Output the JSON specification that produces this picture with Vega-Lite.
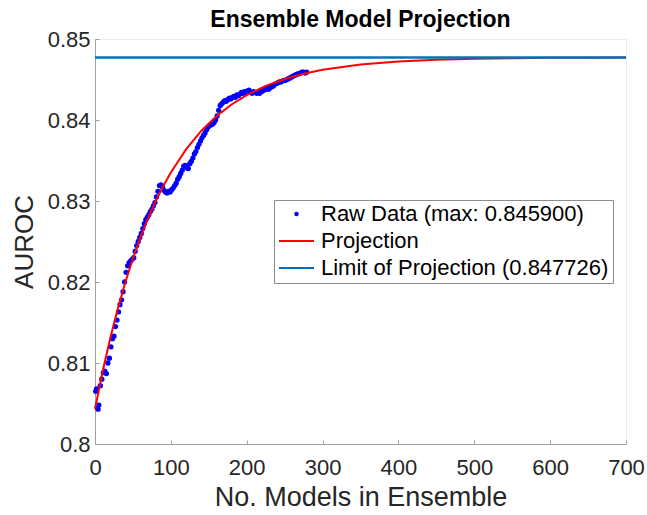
{
  "$schema": "https://vega.github.io/schema/vega-lite/v6.json",
  "width": 531,
  "height": 405,
  "autosize": {"type": "none"},
  "padding": {"left": 95, "top": 39, "right": 21, "bottom": 71},
  "background": "white",
  "title": {"text": "Ensemble Model Projection", "font": "Liberation Sans", "fontSize": 23, "fontWeight": "bold", "color": "black", "anchor": "middle", "frame": "group", "baseline": "alphabetic", "offset": -22},
  "config": {
    "view": {"stroke": "#ececec", "strokeWidth": 1},
    "axis": {"domainColor": "#a0a0a0", "tickColor": "#a0a0a0", "labelColor": "#262626", "titleColor": "#262626", "labelFont": "Liberation Sans", "titleFont": "Liberation Sans", "labelFontSize": 22, "titleFontSize": 26, "titleFontWeight": "normal", "grid": false, "tickSize": -4, "domainWidth": 1, "tickWidth": 1, "labelFlush": false, "labelOverlap": false}
  },
  "datasets": {
    "raw": [
      {"models": 1, "auroc": 0.8065}, {"models": 2, "auroc": 0.8068}, {"models": 3, "auroc": 0.8045}, {"models": 4, "auroc": 0.8043}, {"models": 5, "auroc": 0.8048},
      {"models": 7, "auroc": 0.8072}, {"models": 9, "auroc": 0.8080}, {"models": 11, "auroc": 0.8088}, {"models": 13, "auroc": 0.8090}, {"models": 15, "auroc": 0.8087},
      {"models": 17, "auroc": 0.8100}, {"models": 19, "auroc": 0.8106}, {"models": 21, "auroc": 0.8120}, {"models": 23, "auroc": 0.8130}, {"models": 25, "auroc": 0.8133},
      {"models": 27, "auroc": 0.8145}, {"models": 29, "auroc": 0.8153}, {"models": 31, "auroc": 0.8163}, {"models": 33, "auroc": 0.8172}, {"models": 35, "auroc": 0.8178},
      {"models": 37, "auroc": 0.8188}, {"models": 39, "auroc": 0.8200}, {"models": 41, "auroc": 0.8212}, {"models": 43, "auroc": 0.8220}, {"models": 45, "auroc": 0.8224},
      {"models": 47, "auroc": 0.8226}, {"models": 49, "auroc": 0.8228}, {"models": 51, "auroc": 0.8230}, {"models": 53, "auroc": 0.8238}, {"models": 55, "auroc": 0.8245},
      {"models": 57, "auroc": 0.8250}, {"models": 59, "auroc": 0.8255}, {"models": 61, "auroc": 0.8260}, {"models": 63, "auroc": 0.8266}, {"models": 65, "auroc": 0.8272},
      {"models": 67, "auroc": 0.8277}, {"models": 69, "auroc": 0.8280}, {"models": 71, "auroc": 0.8283}, {"models": 73, "auroc": 0.8287}, {"models": 75, "auroc": 0.8290},
      {"models": 77, "auroc": 0.8294}, {"models": 79, "auroc": 0.8298}, {"models": 81, "auroc": 0.8305}, {"models": 83, "auroc": 0.8312}, {"models": 85, "auroc": 0.8319},
      {"models": 87, "auroc": 0.8320}, {"models": 89, "auroc": 0.8317}, {"models": 91, "auroc": 0.8313}, {"models": 93, "auroc": 0.8311}, {"models": 95, "auroc": 0.8310},
      {"models": 97, "auroc": 0.8312}, {"models": 99, "auroc": 0.8311}, {"models": 101, "auroc": 0.8314}, {"models": 103, "auroc": 0.8316}, {"models": 105, "auroc": 0.8319},
      {"models": 107, "auroc": 0.8322}, {"models": 109, "auroc": 0.8327}, {"models": 111, "auroc": 0.8330}, {"models": 113, "auroc": 0.8334}, {"models": 115, "auroc": 0.8338},
      {"models": 117, "auroc": 0.8343}, {"models": 119, "auroc": 0.8344}, {"models": 121, "auroc": 0.8341}, {"models": 123, "auroc": 0.8340}, {"models": 125, "auroc": 0.8346},
      {"models": 127, "auroc": 0.8349}, {"models": 129, "auroc": 0.8353}, {"models": 131, "auroc": 0.8358}, {"models": 133, "auroc": 0.8361}, {"models": 135, "auroc": 0.8366},
      {"models": 137, "auroc": 0.8370}, {"models": 139, "auroc": 0.8374}, {"models": 141, "auroc": 0.8378}, {"models": 143, "auroc": 0.8381}, {"models": 145, "auroc": 0.8384},
      {"models": 147, "auroc": 0.8388}, {"models": 149, "auroc": 0.8391}, {"models": 151, "auroc": 0.8393}, {"models": 153, "auroc": 0.8394}, {"models": 155, "auroc": 0.8395},
      {"models": 157, "auroc": 0.8397}, {"models": 159, "auroc": 0.8400}, {"models": 161, "auroc": 0.8405}, {"models": 163, "auroc": 0.8412}, {"models": 165, "auroc": 0.8418},
      {"models": 167, "auroc": 0.8420}, {"models": 169, "auroc": 0.8422}, {"models": 171, "auroc": 0.8424}, {"models": 173, "auroc": 0.8423}, {"models": 175, "auroc": 0.8425},
      {"models": 177, "auroc": 0.8427}, {"models": 179, "auroc": 0.8426}, {"models": 181, "auroc": 0.8428}, {"models": 183, "auroc": 0.8429}, {"models": 185, "auroc": 0.8428},
      {"models": 187, "auroc": 0.8431}, {"models": 189, "auroc": 0.8430}, {"models": 191, "auroc": 0.8432}, {"models": 193, "auroc": 0.8434}, {"models": 195, "auroc": 0.8433},
      {"models": 197, "auroc": 0.8435}, {"models": 199, "auroc": 0.8434}, {"models": 201, "auroc": 0.8436}, {"models": 203, "auroc": 0.8437}, {"models": 205, "auroc": 0.8434},
      {"models": 207, "auroc": 0.8433}, {"models": 209, "auroc": 0.8435}, {"models": 211, "auroc": 0.8434}, {"models": 213, "auroc": 0.8433}, {"models": 215, "auroc": 0.8434},
      {"models": 217, "auroc": 0.8433}, {"models": 219, "auroc": 0.8435}, {"models": 221, "auroc": 0.8436}, {"models": 223, "auroc": 0.8437}, {"models": 225, "auroc": 0.8438},
      {"models": 227, "auroc": 0.8439}, {"models": 229, "auroc": 0.8438}, {"models": 231, "auroc": 0.8440}, {"models": 233, "auroc": 0.8441}, {"models": 235, "auroc": 0.8442},
      {"models": 237, "auroc": 0.8444}, {"models": 239, "auroc": 0.8445}, {"models": 241, "auroc": 0.8446}, {"models": 243, "auroc": 0.8447}, {"models": 245, "auroc": 0.8447},
      {"models": 247, "auroc": 0.8448}, {"models": 249, "auroc": 0.8449}, {"models": 251, "auroc": 0.8449}, {"models": 253, "auroc": 0.8450}, {"models": 255, "auroc": 0.8451},
      {"models": 257, "auroc": 0.8452}, {"models": 259, "auroc": 0.8453}, {"models": 261, "auroc": 0.8454}, {"models": 263, "auroc": 0.8455}, {"models": 265, "auroc": 0.8456},
      {"models": 267, "auroc": 0.8457}, {"models": 269, "auroc": 0.8457}, {"models": 271, "auroc": 0.8458}, {"models": 273, "auroc": 0.8459}, {"models": 275, "auroc": 0.8459},
      {"models": 277, "auroc": 0.8458}, {"models": 279, "auroc": 0.8459}
    ],
    "projection": [
      {"models": 0, "auroc": 0.804326}, {"models": 10, "auroc": 0.808914}, {"models": 20, "auroc": 0.813017}, {"models": 30, "auroc": 0.816687},
      {"models": 40, "auroc": 0.819969}, {"models": 50, "auroc": 0.822903}, {"models": 60, "auroc": 0.825528}, {"models": 70, "auroc": 0.827874},
      {"models": 80, "auroc": 0.829973}, {"models": 90, "auroc": 0.831850}, {"models": 100, "auroc": 0.833528}, {"models": 120, "auroc": 0.836371},
      {"models": 140, "auroc": 0.838645}, {"models": 160, "auroc": 0.840464}, {"models": 180, "auroc": 0.841918}, {"models": 200, "auroc": 0.843081},
      {"models": 225, "auroc": 0.844212}, {"models": 250, "auroc": 0.845069}, {"models": 275, "auroc": 0.845717}, {"models": 300, "auroc": 0.846206},
      {"models": 350, "auroc": 0.846857}, {"models": 400, "auroc": 0.847229}, {"models": 450, "auroc": 0.847442}, {"models": 500, "auroc": 0.847563},
      {"models": 550, "auroc": 0.847633}, {"models": 600, "auroc": 0.847673}, {"models": 650, "auroc": 0.847696}, {"models": 700, "auroc": 0.847709}
    ],
    "limit": [{"auroc": 0.847726}]
  },
  "layer": [
    {
      "data": {"name": "raw"},
      "mark": {"type": "point", "filled": true, "size": 28, "opacity": 1},
      "encoding": {
        "x": {"field": "models", "type": "quantitative", "scale": {"domain": [0, 700], "nice": false}, "axis": {"title": "No. Models in Ensemble", "titleFontSize": 27, "values": [0, 100, 200, 300, 400, 500, 600, 700], "labelPadding": 17, "titlePadding": 6}},
        "y": {"field": "auroc", "type": "quantitative", "scale": {"domain": [0.8, 0.85], "nice": false, "zero": false}, "axis": {"title": "AUROC", "values": [0.8, 0.81, 0.82, 0.83, 0.84, 0.85], "format": "~g", "labelPadding": 9, "titlePadding": 10}},
        "color": {
          "datum": "Raw Data (max: 0.845900)",
          "scale": {"domain": ["Raw Data (max: 0.845900)", "Projection", "Limit of Projection (0.847726)"], "range": ["#0000FF", "#FF0000", "#0072BD"]},
          "legend": {
            "title": null, "orient": "none", "legendX": 179, "legendY": 161, "padding": 4,
            "strokeColor": "#8c8c8c", "fillColor": "white",
            "labelFont": "Liberation Sans", "labelFontSize": 22, "labelColor": "black", "labelOffset": 6, "labelLimit": 0,
            "symbolType": {"expr": "datum.index === 0 ? 'circle' : 'stroke'"},
            "symbolSize": {"expr": "datum.index === 0 ? 6 : 1225"},
            "symbolStrokeWidth": 2, "symbolOpacity": 1, "clipHeight": 20, "rowPadding": 5
          }
        }
      }
    },
    {
      "data": {"name": "projection"},
      "mark": {"type": "line", "strokeWidth": 2},
      "encoding": {
        "x": {"field": "models", "type": "quantitative"},
        "y": {"field": "auroc", "type": "quantitative"},
        "color": {"datum": "Projection"}
      }
    },
    {
      "data": {"name": "limit"},
      "mark": {"type": "rule", "strokeWidth": 2.5},
      "encoding": {
        "y": {"field": "auroc", "type": "quantitative"},
        "color": {"datum": "Limit of Projection (0.847726)"}
      }
    }
  ]
}
